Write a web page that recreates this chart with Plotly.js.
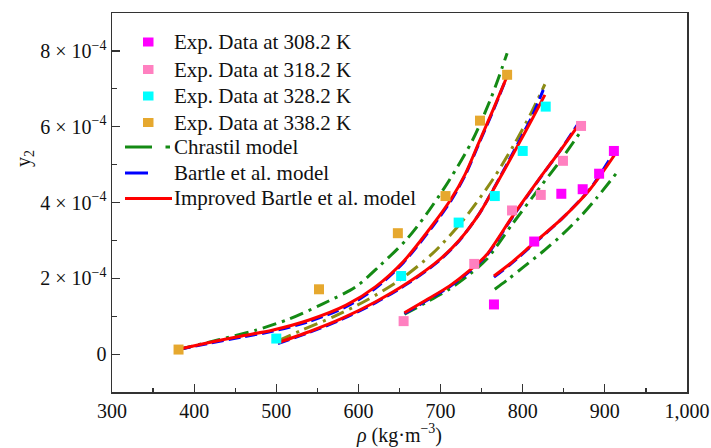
<!DOCTYPE html>
<html><head><meta charset="utf-8">
<script src="https://cdn.plot.ly/plotly-3.0.1.min.js"></script>
<style>body{margin:0;background:#fff;} #chart{width:711px;height:448px;}</style>
</head><body><div id="chart"></div>
<script>
// Experimental data (rho in kg/m3, y2 mole fraction)
const rho308 = [765, 814, 847, 873, 893, 911];
const y308   = [1.31e-4, 2.97e-4, 4.23e-4, 4.35e-4, 4.76e-4, 5.36e-4];
const rho318 = [655, 741, 787, 822, 849, 871];
const y318   = [0.87e-4, 2.38e-4, 3.79e-4, 4.20e-4, 5.10e-4, 6.02e-4];
const rho328 = [500, 652, 722, 766, 800, 828];
const y328   = [0.41e-4, 2.06e-4, 3.47e-4, 4.17e-4, 5.36e-4, 6.53e-4];
const rho338 = [381, 552, 648, 706, 748, 781];
const y338   = [0.12e-4, 1.71e-4, 3.19e-4, 4.17e-4, 6.16e-4, 7.37e-4];

// Improved Bartle et al. model
const impRho338 = [381, 417, 458, 495, 540, 585, 621, 655, 690, 713, 730, 747, 764, 781];
const impY338   = [0.13e-4, 0.30e-4, 0.48e-4, 0.63e-4, 0.90e-4, 1.29e-4, 1.78e-4, 2.45e-4, 3.40e-4, 4.10e-4, 4.75e-4, 5.60e-4, 6.45e-4, 7.33e-4];
const impRho328 = [502, 540, 580, 621, 660, 698, 723, 747, 764, 780, 796, 812, 827];
const impY328   = [0.30e-4, 0.59e-4, 0.94e-4, 1.38e-4, 1.88e-4, 2.48e-4, 3.01e-4, 3.70e-4, 4.33e-4, 4.95e-4, 5.58e-4, 6.22e-4, 6.84e-4];
const impRho318 = [656, 682, 711, 735, 756, 788, 821, 845, 870];
const impY318   = [1.09e-4, 1.42e-4, 1.80e-4, 2.20e-4, 2.62e-4, 3.65e-4, 4.65e-4, 5.35e-4, 6.11e-4];
const impRho308 = [765, 785, 812, 849, 882, 912];
const impY308   = [2.06e-4, 2.39e-4, 2.90e-4, 3.60e-4, 4.35e-4, 5.26e-4];

// Bartle et al. model
const barRho338 = [381, 417, 458, 495, 540, 585, 621, 655, 690, 713, 730, 747, 764, 780];
const barY338   = [0.12e-4, 0.28e-4, 0.45e-4, 0.60e-4, 0.86e-4, 1.25e-4, 1.74e-4, 2.42e-4, 3.36e-4, 4.06e-4, 4.72e-4, 5.57e-4, 6.42e-4, 7.28e-4];
const barRho328 = [502, 540, 580, 621, 660, 698, 723, 747, 764, 780, 796, 812, 825];
const barY328   = [0.28e-4, 0.57e-4, 0.92e-4, 1.36e-4, 1.86e-4, 2.46e-4, 3.00e-4, 3.70e-4, 4.34e-4, 4.98e-4, 5.63e-4, 6.30e-4, 6.97e-4];
const barRho318 = [656, 682, 711, 735, 756, 788, 821, 845, 869];
const barY318   = [1.07e-4, 1.40e-4, 1.78e-4, 2.18e-4, 2.60e-4, 3.63e-4, 4.64e-4, 5.35e-4, 6.13e-4];
const barRho308 = [765, 785, 812, 849, 882, 910];
const barY308   = [2.03e-4, 2.37e-4, 2.88e-4, 3.60e-4, 4.36e-4, 5.28e-4];

// Chrastil model
const chrRho338 = [381, 430, 475, 515, 556, 597, 625, 658, 682, 711, 739, 760, 770, 781];
const chrY338   = [0.12e-4, 0.38e-4, 0.63e-4, 0.92e-4, 1.32e-4, 1.78e-4, 2.31e-4, 3.01e-4, 3.67e-4, 4.60e-4, 5.65e-4, 6.68e-4, 7.25e-4, 7.94e-4];
const chrRho328 = [502, 530, 570, 610, 650, 690, 727, 764, 790, 810, 827];
const chrY328   = [0.35e-4, 0.62e-4, 0.99e-4, 1.42e-4, 1.95e-4, 2.65e-4, 3.52e-4, 4.62e-4, 5.55e-4, 6.35e-4, 7.12e-4];
const chrRho318 = [656, 683, 711, 735, 756, 788, 821, 845, 870];
const chrY318   = [1.05e-4, 1.37e-4, 1.72e-4, 2.10e-4, 2.50e-4, 3.45e-4, 4.40e-4, 5.08e-4, 5.85e-4];
const chrRho308 = [766, 782, 800, 827, 849, 872, 890, 914];
const chrY308   = [1.71e-4, 1.97e-4, 2.28e-4, 2.75e-4, 3.17e-4, 3.67e-4, 4.12e-4, 4.77e-4];

const xTickVals = [300, 400, 500, 600, 700, 800, 900, 1000];
const xTickText = ['300', '400', '500', '600', '700', '800', '900', '1,000'];
const yTickVals = [0, 2e-4, 4e-4, 6e-4, 8e-4];
const yTickText = ['0', '2 × 10<sup>−4</sup>', '4 × 10<sup>−4</sup>', '6 × 10<sup>−4</sup>', '8 × 10<sup>−4</sup>'];

// Legend labels
const expLabels = ['Exp. Data at 308.2 K', 'Exp. Data at 318.2 K', 'Exp. Data at 328.2 K', 'Exp. Data at 338.2 K'];
const modelLabels = ['Chrastil model', 'Bartle et al. model', 'Improved Bartle et al. model'];

const FONT = 'Liberation Serif, Times New Roman, serif';
const GREEN = '#148a14', OLIVE = '#8c8c14', BLUE = '#0000ff', RED = '#ff0000';
const EXP_COLORS = ['#ff00ff', '#ff80c0', '#00ffff', '#e6a82e'];
const CHR_DASH = '14px,6px,3px,6px';
const BAR_DASH = '12px,5px';

function line(x, y, color, dash) {
  return {x: x, y: y, type: 'scatter', mode: 'lines', showlegend: false, hoverinfo: 'skip',
    line: {color: color, width: 3, dash: dash, shape: 'spline', smoothing: 0.8}};
}
function pts(x, y, color) {
  return {x: x, y: y, type: 'scatter', mode: 'markers', showlegend: false, hoverinfo: 'skip',
    marker: {symbol: 'square', size: 10, color: color, line: {width: 0}}};
}

const traces = [
  line(chrRho338, chrY338, GREEN, CHR_DASH),
  line(chrRho328, chrY328, OLIVE, CHR_DASH),
  line(chrRho318, chrY318, GREEN, CHR_DASH),
  line(chrRho308, chrY308, GREEN, CHR_DASH),
  line(barRho338, barY338, BLUE, BAR_DASH),
  line(barRho328, barY328, BLUE, BAR_DASH),
  line(barRho318, barY318, BLUE, BAR_DASH),
  line(barRho308, barY308, BLUE, BAR_DASH),
  line(impRho338, impY338, RED, 'solid'),
  line(impRho328, impY328, RED, 'solid'),
  line(impRho318, impY318, RED, 'solid'),
  line(impRho308, impY308, RED, 'solid'),
  pts(rho308, y308, EXP_COLORS[0]),
  pts(rho318, y318, EXP_COLORS[1]),
  pts(rho328, y328, EXP_COLORS[2]),
  pts(rho338, y338, EXP_COLORS[3])
];

// layout geometry (pixels)
const W = 711, H = 448, ML = 112, MR = 24, MT = 13, MB = 56;
const PW = W - ML - MR, PH = H - MT - MB;
const px = v => (v - ML) / PW;
const py = v => (H - MB - v) / PH;

// hand-built legend (symbols as shapes, labels as annotations)
const shapes = [];
const annotations = [];
const expRows = [42, 69.5, 96, 122.5];
expLabels.forEach((t, i) => {
  shapes.push({type: 'rect', xref: 'paper', yref: 'paper',
    x0: px(143), x1: px(153.5), y0: py(expRows[i] + 4.5), y1: py(expRows[i] - 4.5),
    fillcolor: EXP_COLORS[i], line: {width: 0}});
  annotations.push({text: t, xref: 'paper', yref: 'paper', x: px(172), y: py(expRows[i]),
    xanchor: 'left', yanchor: 'middle', showarrow: false,
    font: {family: FONT, size: 21, color: '#111'}});
});
const modRows = [147, 173, 198.5];
// Chrastil: dash + dot
shapes.push({type: 'line', xref: 'paper', yref: 'paper', x0: px(125), x1: px(152), y0: py(modRows[0]), y1: py(modRows[0]), line: {color: GREEN, width: 3}});
shapes.push({type: 'line', xref: 'paper', yref: 'paper', x0: px(165.5), x1: px(170), y0: py(modRows[0]), y1: py(modRows[0]), line: {color: GREEN, width: 3}});
// Bartle: dash
shapes.push({type: 'line', xref: 'paper', yref: 'paper', x0: px(125), x1: px(148), y0: py(modRows[1]), y1: py(modRows[1]), line: {color: BLUE, width: 3}});
// Improved: solid
shapes.push({type: 'line', xref: 'paper', yref: 'paper', x0: px(125), x1: px(172), y0: py(modRows[2]), y1: py(modRows[2]), line: {color: RED, width: 3}});
modelLabels.forEach((t, i) => {
  annotations.push({text: t, xref: 'paper', yref: 'paper', x: px(172), y: py(modRows[i]),
    xanchor: 'left', yanchor: 'middle', showarrow: false,
    font: {family: FONT, size: 21, color: '#111'}});
});
// y-axis title
annotations.push({text: 'y<sub>2</sub>', xref: 'paper', yref: 'paper', x: px(24), y: py(159),
  xanchor: 'center', yanchor: 'middle',
  textangle: -90, showarrow: false, font: {family: FONT, size: 20, color: '#111'}});

const axisCommon = {
  showgrid: false, zeroline: false, showline: true, linecolor: '#333', linewidth: 1.5,
  mirror: true, ticks: 'inside', ticklen: 8, tickwidth: 1.2, tickcolor: '#333',
  tickfont: {family: FONT, size: 20, color: '#111'}
};

const layout = {
  width: W, height: H,
  margin: {l: ML, r: MR, t: MT, b: MB},
  paper_bgcolor: '#fff', plot_bgcolor: '#fff',
  font: {family: FONT, color: '#111'},
  showlegend: false,
  xaxis: Object.assign({}, axisCommon, {
    range: [300, 1000], tickmode: 'array', tickvals: xTickVals, ticktext: xTickText,
    minor: {tickvals: [350, 450, 550, 650, 750, 850, 950], ticks: 'inside', ticklen: 4, tickcolor: '#333', tickwidth: 1.2},
    title: {text: '<i>ρ</i> (kg·m<sup>−3</sup>)', font: {family: FONT, size: 20, color: '#111'}, standoff: 4}
  }),
  yaxis: Object.assign({}, axisCommon, {
    range: [-1e-4, 9e-4], tickmode: 'array', tickvals: yTickVals, ticktext: yTickText,
    minor: {tickvals: [1e-4, 3e-4, 5e-4, 7e-4], ticks: 'inside', ticklen: 5, tickcolor: '#333', tickwidth: 1.2}
  }),
  shapes: shapes,
  annotations: annotations
};

Plotly.newPlot('chart', traces, layout, {displayModeBar: false, staticPlot: true});
</script>
</body></html>
